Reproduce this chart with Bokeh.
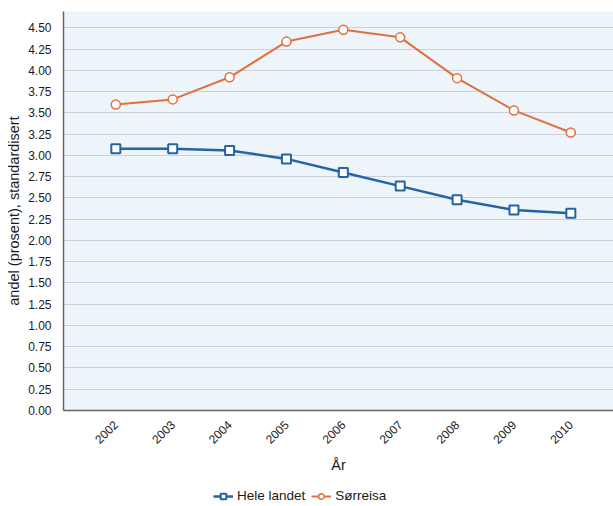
from bokeh.plotting import figure
from bokeh.layouts import column
from bokeh.models import Range1d, FixedTicker, Legend, LegendItem
from bokeh.embed import file_html
from bokeh.resources import INLINE

years = [2002, 2003, 2004, 2005, 2006, 2007, 2008, 2009, 2010]
hele_landet = [3.08, 3.08, 3.06, 2.96, 2.80, 2.64, 2.48, 2.36, 2.32]
sorreisa = [3.60, 3.66, 3.92, 4.34, 4.48, 4.39, 3.91, 3.53, 3.27]
series_names = ["Hele landet", "Sørreisa"]
y_ticks = [i * 0.25 for i in range(19)]
y_tick_labels = {t: f"{t:.2f}" for t in y_ticks}
x_tick_labels = {y: str(y) for y in years}

BLUE = "#2463a6"
ORANGE = "#e2703d"
FONT = "Liberation Sans"

p = figure(frame_width=550, frame_height=399, output_backend="svg", toolbar_location=None,
           x_range=Range1d(2001.08, 2010.75), y_range=Range1d(0, 4.694),
           min_border_left=63, min_border_top=11, min_border_right=0, min_border_bottom=70)
p.outline_line_color = None
p.background_fill_color = "#edf4fa"
p.border_fill_color = "white"

p.xgrid.grid_line_color = None
p.ygrid.grid_line_color = "#c9d2da"
p.ygrid.grid_line_width = 1

p.yaxis.ticker = FixedTicker(ticks=y_ticks)
p.yaxis.major_label_overrides = y_tick_labels
p.xaxis.ticker = FixedTicker(ticks=years)
p.xaxis.major_label_overrides = x_tick_labels
p.xaxis.major_label_orientation = 0.785

for ax in (p.xaxis, p.yaxis):
    ax.axis_line_color = "#666666"
    ax.axis_line_width = 1.5
    ax.major_tick_line_color = None
    ax.minor_tick_line_color = None
    ax.major_label_text_font = FONT
    ax.major_label_text_font_size = "12px"
    ax.major_label_text_color = "#1a1a1a"
    ax.axis_label_text_font = FONT
    ax.axis_label_text_font_style = "normal"
    ax.axis_label_text_color = "#1a1a1a"
    ax.axis_label_text_font_size = "14.5px"

p.yaxis.axis_label = "andel (prosent), standardisert"
p.yaxis.major_label_standoff = 6
p.yaxis.axis_label_standoff = 3
p.xaxis.axis_label = "År"
p.xaxis.major_label_standoff = 6
p.xaxis.axis_label_standoff = 6

p.line(years, hele_landet, line_color=BLUE, line_width=2.5)
p.scatter(years, hele_landet, marker="square", size=9, line_color=BLUE,
          line_width=2, fill_color="white")
p.line(years, sorreisa, line_color=ORANGE, line_width=2)
p.scatter(years, sorreisa, marker="circle", size=9, line_color=ORANGE,
          line_width=1.5, fill_color="white")

# separate strip under the chart that only carries the legend;
# its series lie outside the strip's ranges, so only the key glyphs show
key = figure(width=613, height=26, output_backend="svg", toolbar_location=None,
             x_range=Range1d(0, 1), y_range=Range1d(0, 1),
             min_border=0)
key.axis.visible = False
key.grid.visible = False
key.outline_line_color = None
key.background_fill_color = "white"

k1 = key.line(years, hele_landet, line_color=BLUE, line_width=2.5)
k1m = key.scatter(years, hele_landet, marker="square", size=9, line_color=BLUE,
                  line_width=2, fill_color="white")
k2 = key.line(years, sorreisa, line_color=ORANGE, line_width=2)
k2m = key.scatter(years, sorreisa, marker="circle", size=9, line_color=ORANGE,
                  line_width=1.5, fill_color="white")

legend = Legend(items=[LegendItem(label=series_names[0], renderers=[k1, k1m]),
                       LegendItem(label=series_names[1], renderers=[k2, k2m])],
                orientation="horizontal", location=(150, 3),
                label_text_font=FONT, label_text_font_size="13.5px",
                label_text_color="#1a1a1a", glyph_width=20, glyph_height=14,
                label_standoff=4, spacing=6, padding=2, margin=0,
                border_line_color=None, background_fill_alpha=0)
key.add_layout(legend, "center")

layout = column(p, key, spacing=0)
open("out.html", "w").write(file_html(layout, INLINE))
